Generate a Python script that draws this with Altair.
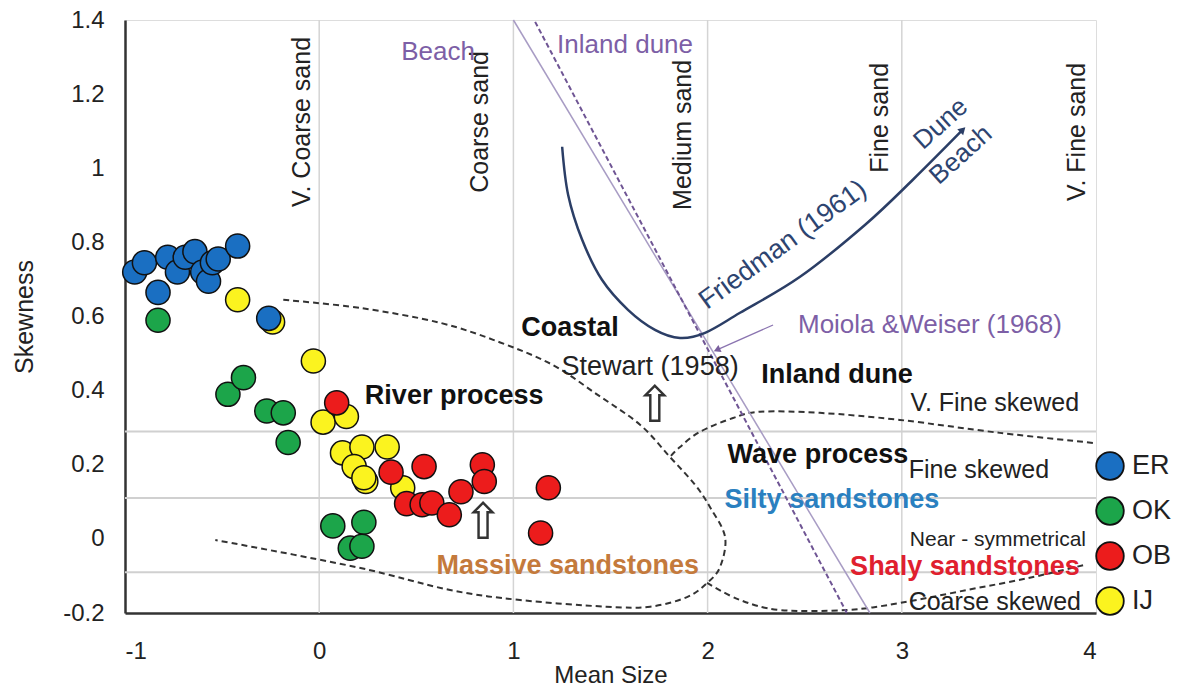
import altair as alt
import pandas as pd

# ---------------- data ----------------
series_order = ["ER", "OK", "OB", "IJ"]
series_colors = ["#1a6fc2", "#1ca54a", "#ec1c1c", "#fbf31f"]

ij_x = [-0.42, -0.24, -0.03, 0.02, 0.14, 0.12, 0.22, 0.18, 0.35, 0.24, 0.43, 0.23]
ij_y = [0.645, 0.585, 0.48, 0.315, 0.33, 0.232, 0.248, 0.195, 0.248, 0.155, 0.138, 0.165]

ok_x = [-0.83, -0.47, -0.39, -0.27, -0.185, -0.16, 0.07, 0.23, 0.16, 0.22]
ok_y = [0.59, 0.39, 0.435, 0.345, 0.34, 0.26, 0.035, 0.045, -0.025, -0.02]

er_x = [-0.95, -0.90, -0.83, -0.78, -0.73, -0.69, -0.64, -0.60, -0.57, -0.55, -0.52, -0.42, -0.26]
er_y = [0.72, 0.745, 0.665, 0.76, 0.72, 0.76, 0.775, 0.72, 0.695, 0.745, 0.755, 0.79, 0.595]

ob_x = [0.09, 0.37, 0.54, 0.84, 0.85, 0.73, 0.45, 0.53, 0.58, 0.67, 1.18, 1.14]
ob_y = [0.367, 0.18, 0.195, 0.20, 0.155, 0.127, 0.095, 0.092, 0.097, 0.065, 0.138, 0.016]

x_ticks = [-1, 0, 1, 2, 3, 4]
y_ticks = [-0.2, 0, 0.2, 0.4, 0.6, 0.8, 1, 1.2, 1.4]
grid_x = [0, 1, 2, 3]
grid_y = [0.29, 0.11, -0.09]

# river-process envelope (dashed)
river_x = [-0.185, 0.211, 0.623, 0.932, 1.2, 1.43, 1.652, 1.806, 1.935, 2.012, 2.09, 2.064,
           1.997, 1.894, 1.704, 1.477, 1.034, 0.674, 0.19, -0.535]
river_y = [0.645, 0.623, 0.583, 0.53, 0.47, 0.39, 0.308, 0.221, 0.146, 0.086, 0.005, -0.076,
           -0.119, -0.157, -0.183, -0.183, -0.165, -0.138, -0.076, -0.003]
# wave-process envelope, upper and lower branches (dashed)
wave_top_x = [3.984, 3.505, 2.99, 2.578, 2.27, 2.131, 1.961, 1.858, 1.806]
wave_top_y = [0.259, 0.286, 0.321, 0.34, 0.343, 0.326, 0.289, 0.248, 0.221]
wave_bot_x = [1.997, 2.167, 2.373, 2.717, 2.99, 3.335, 3.659, 3.942]
wave_bot_y = [-0.119, -0.165, -0.192, -0.192, -0.173, -0.138, -0.105, -0.07]

# Friedman (1961) curve
fried_x = [1.251, 1.282, 1.354, 1.456, 1.59, 1.729, 1.858, 1.987, 2.167, 2.476, 2.81, 3.057, 3.314]
fried_y = [1.058, 0.928, 0.807, 0.699, 0.618, 0.564, 0.542, 0.556, 0.61, 0.707, 0.847, 0.969, 1.104]

# Moiola & Weiser (1968) lines
beach_line_x = [1.0, 2.836]
beach_line_y = [1.4, -0.2]
dune_line_x = [1.112, 2.717]
dune_line_y = [1.395, -0.2]
mw_arrow_x = [2.337, 2.048]
mw_arrow_y = [0.577, 0.510]

# hollow arrows
hollow_x = [1.729, 0.844]
hollow_y = [0.355, 0.04]

# annotations
vert_text = ["V. Coarse sand", "Coarse sand", "Medium sand", "Fine sand", "V. Fine sand"]
vert_x = [-0.087, 0.829, 1.873, 2.887, 3.901]
vert_y = [1.125, 1.125, 1.09, 1.136, 1.098]

skew_text = ["V. Fine skewed", "Fine skewed", "Coarse skewed"]
skew_x = [3.479, 3.397, 3.479]
skew_y = [0.367, 0.186, -0.17]

plain_text = ["Stewart (1958)"]
plain_x = [1.704]
plain_y = [0.464]

bold_text = ["Coastal", "Inland dune", "River process", "Wave process"]
bold_x = [1.292, 2.666, 0.695, 2.568]
bold_y = [0.569, 0.443, 0.386, 0.227]

purple_text = ["Beach", "Inland dune", "Moiola &Weiser (1968)"]
purple_x = [0.612, 1.575, 3.145]
purple_y = [1.314, 1.333, 0.577]

# ---------------- chart ----------------
FONT = "Liberation Sans"
XS = alt.Scale(domain=[-1, 4], nice=False, zero=False)
YS = alt.Scale(domain=[-0.2, 1.4], nice=False, zero=False)
X = alt.X("x:Q", scale=XS, title="Mean Size",
          axis=alt.Axis(values=x_ticks, grid=False, ticks=False, labelFontSize=24,
                        labelExpr="datum.value + ''",
                        labelColor="#222", labelPadding=26, titleFontSize=24, titleFontWeight="normal",
                        titleColor="#222", titlePadding=0, domainColor="#333", domainWidth=2.5,
                        labelFont=FONT, titleFont=FONT))
Y = alt.Y("y:Q", scale=YS, title="Skewness",
          axis=alt.Axis(values=y_ticks, grid=False, ticks=False,
                        labelFontSize=24, labelColor="#222", labelPadding=21,
                        labelExpr="datum.value + ''",
                        titleFontSize=25, titleFontWeight="normal", titleColor="#222", titlePadding=25,
                        domainColor="#333", domainWidth=2.5, labelFont=FONT, titleFont=FONT))


def df_xy(xs, ys, **extra):
    d = pd.DataFrame({"x": xs, "y": ys, "i": list(range(len(xs)))})
    for k, v in extra.items():
        d[k] = v
    return d


layers = []

vgrid = alt.Chart(pd.DataFrame({"x": grid_x})).mark_rule(color="#d4d4d4", strokeWidth=1.5).encode(x=X)
hgrid = alt.Chart(pd.DataFrame({"y": grid_y})).mark_rule(color="#d0d0d0", strokeWidth=2).encode(y=Y)
layers += [vgrid, hgrid]

env = pd.concat([
    df_xy(river_x, river_y, g="river"),
    df_xy(wave_top_x, wave_top_y, g="wtop"),
    df_xy(wave_bot_x, wave_bot_y, g="wbot"),
])
layers.append(alt.Chart(env).mark_line(color="#333", strokeWidth=2, strokeDash=[6, 4],
                                       interpolate="cardinal").encode(
    x=X, y=Y, detail="g:N", order="i:Q"))

layers.append(alt.Chart(df_xy(beach_line_x, beach_line_y)).mark_line(
    color="#a89cc4", strokeWidth=1.5).encode(x=X, y=Y, order="i:Q"))
layers.append(alt.Chart(df_xy(dune_line_x, dune_line_y)).mark_line(
    color="#6f5594", strokeWidth=2, strokeDash=[5, 3]).encode(x=X, y=Y, order="i:Q"))

layers.append(alt.Chart(df_xy(fried_x, fried_y)).mark_line(
    color="#2b3e66", strokeWidth=2.5, interpolate="cardinal").encode(x=X, y=Y, order="i:Q"))
layers.append(alt.Chart(df_xy(fried_x[-1:], fried_y[-1:])).mark_point(
    shape="triangle-up", angle=45, size=70, filled=True, color="#2b3e66", opacity=1).encode(x=X, y=Y))

layers.append(alt.Chart(df_xy(mw_arrow_x, mw_arrow_y)).mark_line(
    color="#8a74b0", strokeWidth=1.3).encode(x=X, y=Y, order="i:Q"))
layers.append(alt.Chart(df_xy(mw_arrow_x[-1:], mw_arrow_y[-1:])).mark_point(
    shape="triangle-up", angle=246, size=60, filled=True, color="#7a5f9e", opacity=1).encode(x=X, y=Y))

layers.append(alt.Chart(df_xy(hollow_x, hollow_y, t="\u21e7")).mark_text(
    font="DejaVu Sans", fontSize=50, color="#333").encode(x=X, y=Y, text="t:N"))

# points
pts = pd.concat([
    df_xy(ij_x, ij_y, s="IJ"),
    df_xy(ok_x, ok_y, s="OK"),
    df_xy(er_x, er_y, s="ER"),
    df_xy(ob_x, ob_y, s="OB"),
])
layers.append(alt.Chart(pts).mark_circle(size=580, stroke="#111", strokeWidth=1.5, opacity=1).encode(
    x=X, y=Y,
    color=alt.Color("s:N", scale=alt.Scale(domain=series_order, range=series_colors),
                    sort=series_order,
                    legend=alt.Legend(orient="none", legendX=970, legendY=431, title=None,
                                      symbolSize=760, symbolType="circle", symbolStrokeColor="#111",
                                      symbolStrokeWidth=1.8, labelFontSize=27, labelColor="#222",
                                      labelFont=FONT, rowPadding=9, labelOffset=7))))

# text annotations
layers.append(alt.Chart(df_xy(vert_x, vert_y, t=vert_text)).mark_text(
    angle=270, fontSize=25, font=FONT, color="#222").encode(x=X, y=Y, text="t:N"))
layers.append(alt.Chart(df_xy(skew_x, skew_y, t=skew_text)).mark_text(
    fontSize=25, font=FONT, color="#222").encode(x=X, y=Y, text="t:N"))
layers.append(alt.Chart(df_xy(plain_x, plain_y, t=plain_text)).mark_text(
    fontSize=27, font=FONT, color="#222").encode(x=X, y=Y, text="t:N"))
layers.append(alt.Chart(df_xy(bold_x, bold_y, t=bold_text)).mark_text(
    fontSize=27, font=FONT, fontWeight="bold", color="#111").encode(x=X, y=Y, text="t:N"))
layers.append(alt.Chart(df_xy(purple_x, purple_y, t=purple_text)).mark_text(
    fontSize=26, font=FONT, color="#7d5fa6").encode(x=X, y=Y, text="t:N"))
layers.append(alt.Chart(df_xy([2.388], [0.793], t="Friedman (1961)")).mark_text(
    angle=324, fontSize=27, font=FONT, color="#2d4470").encode(x=X, y=Y, text="t:N"))
layers.append(alt.Chart(df_xy([3.201, 3.304], [1.12, 1.036], t=["Dune", "Beach"])).mark_text(
    angle=318, fontSize=26, font=FONT, color="#2d4470").encode(x=X, y=Y, text="t:N"))
layers.append(alt.Chart(df_xy([2.64], [0.105], t="Silty sandstones")).mark_text(
    fontSize=27, font=FONT, fontWeight="bold", color="#2a80c0").encode(x=X, y=Y, text="t:N"))
layers.append(alt.Chart(df_xy([3.325], [-0.076], t="Shaly sandstones")).mark_text(
    fontSize=27, font=FONT, fontWeight="bold", color="#e0202e").encode(x=X, y=Y, text="t:N"))
layers.append(alt.Chart(df_xy([1.28], [-0.074], t="Massive sandstones")).mark_text(
    fontSize=27, font=FONT, fontWeight="bold", color="#c47a3c").encode(x=X, y=Y, text="t:N"))
layers.append(alt.Chart(df_xy([3.495], [-0.003], t="Near - symmetrical")).mark_text(
    fontSize=21, font=FONT, color="#222").encode(x=X, y=Y, text="t:N"))

chart = alt.layer(*layers).properties(
    width=971, height=593,
    autosize=alt.AutoSizeParams(type="none"),
    padding={"left": 125, "top": 20, "right": 92, "bottom": 81},
).configure_view(stroke="#444", strokeWidth=1.5).configure(font=FONT, background="white")

chart.save("out.html", embed_options={"renderer": "svg", "actions": False})
